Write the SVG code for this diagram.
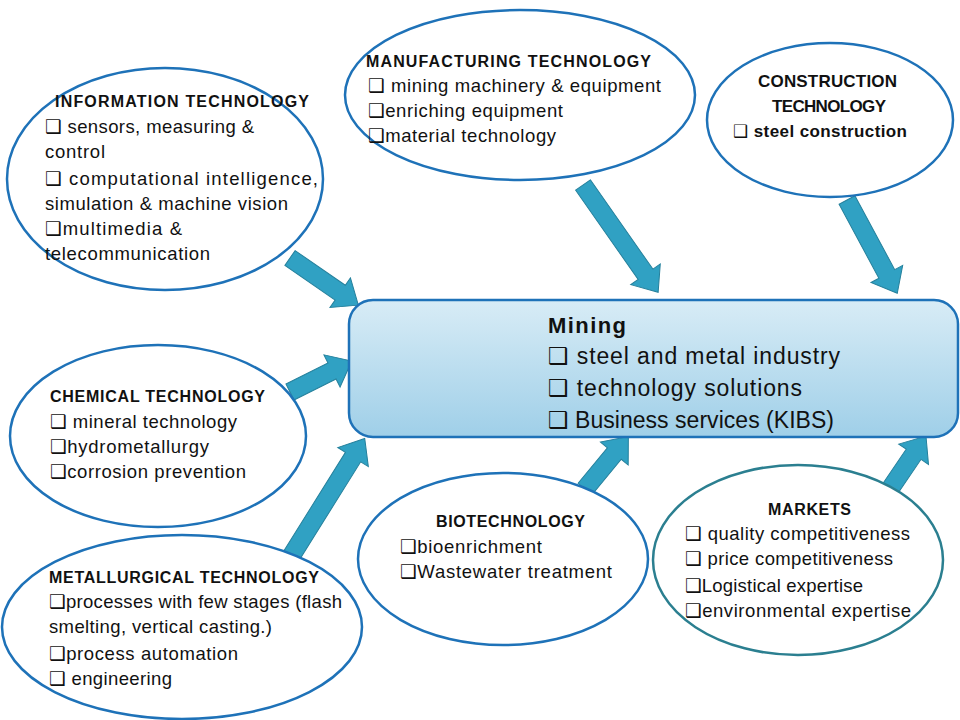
<svg xmlns="http://www.w3.org/2000/svg" width="960" height="720" viewBox="0 0 960 720">
<defs>
<linearGradient id="boxGrad" x1="0" y1="0" x2="0" y2="1">
<stop offset="0" stop-color="#d8ecf6"/>
<stop offset="1" stop-color="#9fcfe8"/>
</linearGradient>
<style>
.ell{fill:#ffffff;stroke:#1e72b8;stroke-width:2.5}
.ell2{fill:#ffffff;stroke:#2b7f90;stroke-width:2.5}
.arr{fill:#30a1c3;stroke:#25809c;stroke-width:1}
text{font-family:"Liberation Sans","DejaVu Sans",sans-serif;fill:#111111}
.h{font-weight:bold;font-size:16px}
.t{font-size:18.5px}
.b{font-weight:bold;font-size:17px}
.c{font-size:23px}
.ch{font-weight:bold;font-size:22px}
</style>
</defs>
<rect width="960" height="720" fill="#ffffff"/>
<g id="connectors">
<polygon class="arr" transform="translate(290,258) rotate(34.6)" points="0,-9 61,-9 61,-18 83,0 61,18 61,9 0,9"/>
<polygon class="arr" transform="translate(583,185) rotate(55)" points="0,-9 109,-9 109,-18 131,0 109,18 109,9 0,9"/>
<polygon class="arr" transform="translate(847,200) rotate(61.7)" points="0,-9 84,-9 84,-18 106,0 84,18 84,9 0,9"/>
<polygon class="arr" transform="translate(290,392) rotate(-26.6)" points="0,-9 47,-9 47,-18 69,0 47,18 47,9 0,9"/>
<polygon class="arr" transform="translate(290,558) rotate(-58)" points="0,-9 119,-9 119,-18 141,0 119,18 119,9 0,9"/>
<polygon class="arr" transform="translate(585,489) rotate(-50.4)" points="0,-9 46,-9 46,-18 68,0 46,18 46,9 0,9"/>
<polygon class="arr" transform="translate(890,489) rotate(-55.8)" points="0,-9 42,-9 42,-18 64,0 42,18 42,9 0,9"/>
</g>
<g id="mining">
<rect x="349" y="300" width="609" height="137" rx="24" ry="24" fill="url(#boxGrad)" stroke="#1e72b8" stroke-width="2.5"/>
<text class="ch" x="548" y="333" textLength="78" lengthAdjust="spacing">Mining</text>
<text class="c" x="548" y="364" textLength="292" lengthAdjust="spacing">❑ steel and metal industry</text>
<text class="c" x="548" y="396" textLength="254" lengthAdjust="spacing">❑ technology solutions</text>
<text class="c" x="548" y="428" textLength="286" lengthAdjust="spacing">❑ Business services (KIBS)</text>
</g>
<g id="information">
<ellipse class="ell" cx="165" cy="179" rx="158" ry="111"/>
<text class="h" x="55" y="107" textLength="254" lengthAdjust="spacing">INFORMATION TECHNOLOGY</text>
<text class="t" x="45" y="133" textLength="209" lengthAdjust="spacing">❑ sensors, measuring &amp;</text>
<text class="t" x="45" y="158" textLength="60" lengthAdjust="spacing">control</text>
<text class="t" x="45" y="185" textLength="273" lengthAdjust="spacing">❑ computational intelligence,</text>
<text class="t" x="45" y="210" textLength="243" lengthAdjust="spacing">simulation &amp; machine vision</text>
<text class="t" x="45" y="235" textLength="137" lengthAdjust="spacing">❑multimedia &amp;</text>
<text class="t" x="45" y="260" textLength="165" lengthAdjust="spacing">telecommunication</text>
</g>
<g id="manufacturing">
<ellipse class="ell" cx="520" cy="95" rx="175" ry="85"/>
<text class="h" x="366" y="67" textLength="285" lengthAdjust="spacing">MANUFACTURING TECHNOLOGY</text>
<text class="t" x="368" y="92" textLength="293" lengthAdjust="spacing">❑ mining machinery &amp; equipment</text>
<text class="t" x="368" y="117" textLength="195" lengthAdjust="spacing">❑enriching equipment</text>
<text class="t" x="368" y="142" textLength="188" lengthAdjust="spacing">❑material technology</text>
</g>
<g id="construction">
<ellipse class="ell" cx="830" cy="120" rx="123" ry="77"/>
<text class="b" x="758" y="87" textLength="139" lengthAdjust="spacing">CONSTRUCTION</text>
<text class="b" x="772" y="112" textLength="114" lengthAdjust="spacing">TECHNOLOGY</text>
<text class="b" x="733" y="137" textLength="174" lengthAdjust="spacing">❑ steel construction</text>
</g>
<g id="chemical">
<ellipse class="ell" cx="158" cy="436" rx="148" ry="91"/>
<text class="h" x="50" y="402" textLength="215" lengthAdjust="spacing">CHEMICAL TECHNOLOGY</text>
<text class="t" x="50" y="428" textLength="187" lengthAdjust="spacing">❑ mineral technology</text>
<text class="t" x="50" y="453" textLength="159" lengthAdjust="spacing">❑hydrometallurgy</text>
<text class="t" x="50" y="478" textLength="196" lengthAdjust="spacing">❑corrosion prevention</text>
</g>
<g id="metallurgical">
<ellipse class="ell" cx="182" cy="627" rx="180" ry="92"/>
<text class="h" x="49" y="583" textLength="270" lengthAdjust="spacing">METALLURGICAL TECHNOLOGY</text>
<text class="t" x="49" y="608" textLength="293" lengthAdjust="spacing">❑processes with few stages (flash</text>
<text class="t" x="49" y="633" textLength="223" lengthAdjust="spacing">smelting, vertical casting.)</text>
<text class="t" x="49" y="660" textLength="189" lengthAdjust="spacing">❑process automation</text>
<text class="t" x="49" y="685" textLength="123" lengthAdjust="spacing">❑ engineering</text>
</g>
<g id="biotechnology">
<ellipse class="ell" cx="503" cy="559" rx="145" ry="86"/>
<text class="h" x="436" y="527" textLength="149" lengthAdjust="spacing">BIOTECHNOLOGY</text>
<text class="t" x="400" y="553" textLength="142" lengthAdjust="spacing">❑bioenrichment</text>
<text class="t" x="400" y="578" textLength="212" lengthAdjust="spacing">❑Wastewater treatment</text>
</g>
<g id="markets">
<ellipse class="ell2" cx="798" cy="560" rx="145" ry="95"/>
<text class="h" x="768" y="515" textLength="83" lengthAdjust="spacing">MARKETS</text>
<text class="t" x="685" y="540" textLength="225" lengthAdjust="spacing">❑ quality competitiveness</text>
<text class="t" x="685" y="565" textLength="208" lengthAdjust="spacing">❑ price competitiveness</text>
<text class="t" x="685" y="592" textLength="178" lengthAdjust="spacing">❑Logistical expertise</text>
<text class="t" x="685" y="617" textLength="226" lengthAdjust="spacing">❑environmental expertise</text>
</g>
</svg>
